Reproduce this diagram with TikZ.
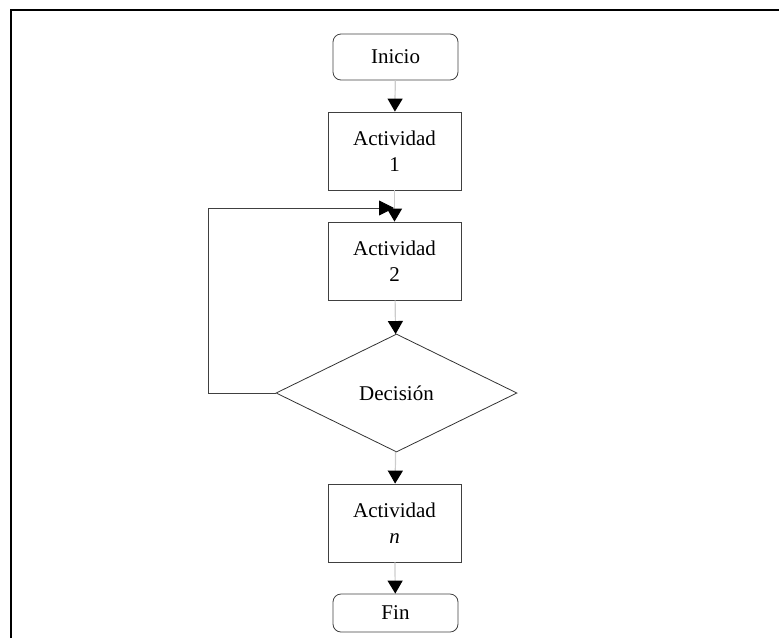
\documentclass[tikz,border=0pt]{standalone}
\usepackage{fontspec}
\setmainfont{Liberation Serif}
\usetikzlibrary{arrows.meta,shapes.geometric}
\begin{document}
\begin{tikzpicture}[x=1pt,y=-1pt,
  box/.style={draw=black!75, line width=0.8pt, minimum width=133pt, minimum height=78pt,
    align=center, inner sep=0pt, font=\fontsize{21}{26}\selectfont},
  term/.style={box, rounded corners=8pt, minimum width=125pt, minimum height=46pt},
  dec/.style={diamond, draw=black!80, line width=0.8pt, aspect=2, minimum width=241pt,
    minimum height=118pt, inner sep=0pt, font=\fontsize{21}{26}\selectfont},
  conn/.style={draw=black!20, line width=1.2pt, -{Triangle[width=15pt,length=13pt,color=black]}},
  back/.style={draw=black!75, line width=0.8pt, -{Triangle[width=15pt,length=15pt,color=black]}},
  frame/.style={draw=black, line width=1.6pt}]
\useasboundingbox (0,0) rectangle (779,638);
\coordinate (fb) at (11,638);
\coordinate (ft) at (11,10);
\coordinate (fr) at (779,10);
\draw[frame] (fb) -- (ft) -- (fr);

\node[term] (ini) at (395.5,57) {Inicio};
\node[box] (a1) at (394.5,151) {Actividad\\1};
\node[box] (a2) at (394.5,261) {Actividad\\2};
\node[dec] (dc) at (396.5,393) {Decisión};
\node[box] (an) at (394.5,523) {Actividad\\\textit{n}};
\node[term, minimum height=38pt] (fin) at (395.5,613) {Fin};

\coordinate (l1) at (208,393);
\coordinate (l2) at (208,208);
\coordinate (l3) at (394,208);

\draw[conn] (ini) -- (a1);
\draw[conn] (a1) -- (a2);
\draw[conn] (a2) -- (dc);
\draw[conn] (dc) -- (an);
\draw[conn] (an) -- (fin);
\draw[back] (dc.west) -- (l1) -- (l2) -- (l3);
\end{tikzpicture}
\end{document}
